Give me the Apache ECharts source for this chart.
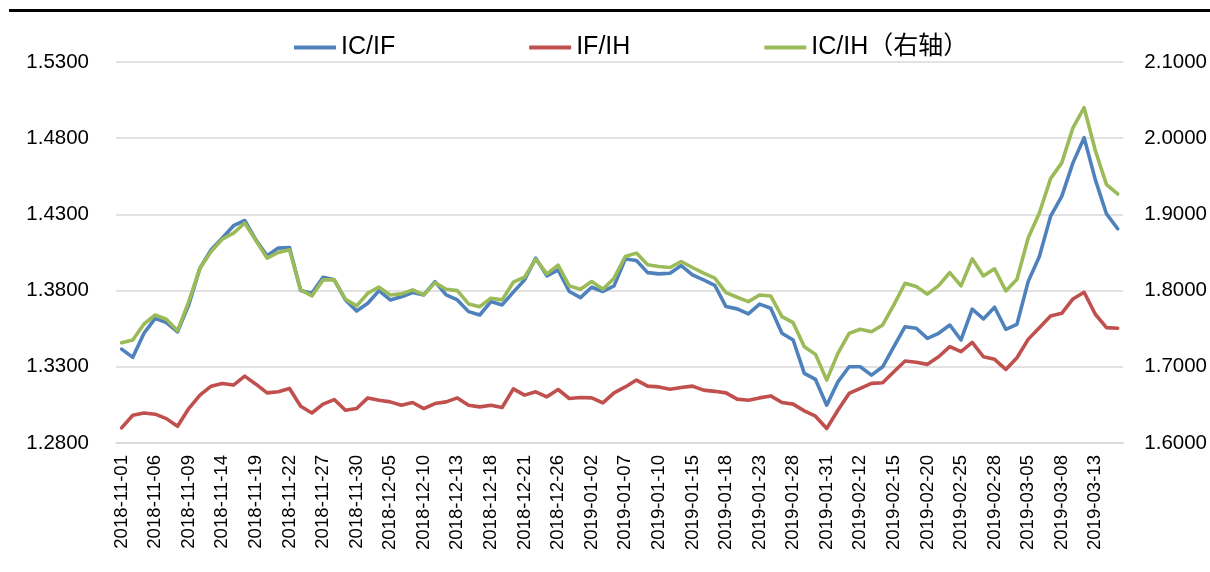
<!DOCTYPE html>
<html>
<head>
<meta charset="utf-8">
<script src="https://cdn.jsdelivr.net/npm/echarts@6/dist/echarts.min.js"></script>
<style>
html,body{margin:0;padding:0;background:#fff;}
#chart{width:1210px;height:572px;}
</style>
</head>
<body>
<div id="chart"></div>
<script>
var dates = [
'2018-11-01','2018-11-02','2018-11-05','2018-11-06','2018-11-07','2018-11-08','2018-11-09','2018-11-12','2018-11-13','2018-11-14',
'2018-11-15','2018-11-16','2018-11-19','2018-11-20','2018-11-21','2018-11-22','2018-11-23','2018-11-26','2018-11-27','2018-11-28',
'2018-11-29','2018-11-30','2018-12-03','2018-12-04','2018-12-05','2018-12-06','2018-12-07','2018-12-10','2018-12-11','2018-12-12',
'2018-12-13','2018-12-14','2018-12-17','2018-12-18','2018-12-19','2018-12-20','2018-12-21','2018-12-24','2018-12-25','2018-12-26',
'2018-12-27','2018-12-28','2019-01-02','2019-01-03','2019-01-04','2019-01-07','2019-01-08','2019-01-09','2019-01-10','2019-01-11',
'2019-01-14','2019-01-15','2019-01-16','2019-01-17','2019-01-18','2019-01-21','2019-01-22','2019-01-23','2019-01-24','2019-01-25',
'2019-01-28','2019-01-29','2019-01-30','2019-01-31','2019-02-01','2019-02-11','2019-02-12','2019-02-13','2019-02-14','2019-02-15',
'2019-02-18','2019-02-19','2019-02-20','2019-02-21','2019-02-22','2019-02-25','2019-02-26','2019-02-27','2019-02-28','2019-03-01',
'2019-03-04','2019-03-05','2019-03-06','2019-03-07','2019-03-08','2019-03-11','2019-03-12','2019-03-13','2019-03-14','2019-03-15'
];

var icIf = [
1.3416,1.3362,1.3520,1.3618,1.3590,1.3530,1.3706,1.3947,1.4068,1.4145,
1.4226,1.4260,1.4133,1.4028,1.4079,1.4083,1.3800,1.3783,1.3888,1.3871,
1.3739,1.3666,1.3717,1.3800,1.3739,1.3760,1.3787,1.3772,1.3859,1.3772,
1.3739,1.3662,1.3640,1.3728,1.3706,1.3790,1.3870,1.4013,1.3897,1.3936,
1.3794,1.3754,1.3822,1.3794,1.3831,1.4007,1.3997,1.3918,1.3910,1.3914,
1.3964,1.3903,1.3870,1.3835,1.3695,1.3680,1.3647,1.3711,1.3684,1.3520,
1.3476,1.3257,1.3217,1.3048,1.3201,1.3300,1.3300,1.3245,1.3300,1.3432,
1.3563,1.3553,1.3487,1.3520,1.3574,1.3476,1.3678,1.3614,1.3691,1.3546,
1.3579,1.3859,1.4024,1.4287,1.4418,1.4638,1.4803,1.4528,1.4303,1.4206
];

var ifIh = [
1.2899,1.2982,1.2997,1.2989,1.2960,1.2910,1.3026,1.3114,1.3173,1.3191,
1.3180,1.3239,1.3186,1.3129,1.3136,1.3158,1.3041,1.2997,1.3055,1.3085,
1.3015,1.3026,1.3096,1.3081,1.3070,1.3048,1.3066,1.3026,1.3059,1.3070,
1.3096,1.3048,1.3037,1.3048,1.3033,1.3155,1.3114,1.3136,1.3103,1.3151,
1.3092,1.3099,1.3096,1.3063,1.3129,1.3168,1.3213,1.3173,1.3168,1.3153,
1.3164,1.3173,1.3147,1.3139,1.3129,1.3088,1.3081,1.3096,1.3109,1.3066,
1.3055,1.3011,1.2976,1.2895,1.3015,1.3125,1.3158,1.3191,1.3195,1.3267,
1.3338,1.3330,1.3316,1.3366,1.3432,1.3399,1.3460,1.3366,1.3349,1.3283,
1.3359,1.3480,1.3557,1.3634,1.3651,1.3745,1.3789,1.3645,1.3557,1.3553
];

var icIh = [
1.7316,1.7351,1.7562,1.7680,1.7624,1.7474,1.7855,1.8295,1.8513,1.8676,
1.8755,1.8887,1.8658,1.8426,1.8500,1.8536,1.8009,1.7930,1.8141,1.8141,
1.7887,1.7799,1.7966,1.8045,1.7943,1.7957,1.8009,1.7943,1.8105,1.8018,
1.8000,1.7825,1.7789,1.7900,1.7878,1.8110,1.8176,1.8413,1.8220,1.8334,
1.8062,1.8018,1.8118,1.8018,1.8163,1.8447,1.8492,1.8338,1.8316,1.8303,
1.8382,1.8303,1.8229,1.8163,1.7974,1.7913,1.7855,1.7943,1.7930,1.7658,
1.7579,1.7263,1.7163,1.6825,1.7176,1.7439,1.7492,1.7461,1.7549,1.7812,
1.8097,1.8053,1.7953,1.8066,1.8237,1.8062,1.8417,1.8193,1.8286,1.7996,
1.8150,1.8689,1.9018,1.9470,1.9676,2.0137,2.0400,1.9838,1.9391,1.9268
];

var seriesNames = ['IC/IF', 'IF/IH', 'IC/IH（右轴）'];
var colors = ['#4F81BD', '#C0504D', '#9BBB59'];

var FONT = '"Liberation Sans", Arial, "Noto Sans CJK SC", sans-serif';

var chart = echarts.init(document.getElementById('chart'), null, {renderer: 'canvas'});
chart.setOption({
  animation: false,
  color: colors,
  textStyle: {fontFamily: FONT},
  graphic: [{
    type: 'rect',
    shape: {x: 9, y: 9, width: 1201, height: 3},
    style: {fill: '#000'}
  }],
  legend: {
    top: 30,
    left: 289,
    itemGap: 134,
    itemWidth: 42,
    itemHeight: 4,
    icon: 'rect',
    textStyle: {fontSize: 25, color: '#000', fontFamily: FONT},
    data: seriesNames
  },
  grid: {left: 116, right: 83, top: 62, bottom: 129, containLabel: false},
  xAxis: {
    type: 'category',
    data: dates,
    boundaryGap: true,
    axisLine: {lineStyle: {color: '#D9D9D9', width: 1.5}},
    axisTick: {show: false},
    axisLabel: {
      interval: 2,
      rotate: 90,
      margin: 12,
      fontSize: 18.6,
      color: '#000',
      fontFamily: FONT
    }
  },
  yAxis: [{
    type: 'value',
    min: 1.28, max: 1.53, interval: 0.05,
    axisLine: {show: false},
    axisTick: {show: false},
    splitLine: {lineStyle: {color: '#D9D9D9', width: 1.5}},
    axisLabel: {
      margin: 27,
      fontSize: 20.5,
      color: '#000',
      fontFamily: FONT,
      formatter: function (v) { return v.toFixed(4); }
    }
  }, {
    type: 'value',
    min: 1.6, max: 2.1, interval: 0.1,
    axisLine: {show: false},
    axisTick: {show: false},
    splitLine: {show: false},
    axisLabel: {
      margin: 21,
      fontSize: 20.5,
      color: '#000',
      fontFamily: FONT,
      formatter: function (v) { return v.toFixed(4); }
    }
  }],
  series: [{
    name: seriesNames[0], type: 'line', yAxisIndex: 0, data: icIf,
    showSymbol: false, symbol: 'none',
    lineStyle: {width: 3.6, color: colors[0], join: 'round', cap: 'round'}
  }, {
    name: seriesNames[1], type: 'line', yAxisIndex: 0, data: ifIh,
    showSymbol: false, symbol: 'none',
    lineStyle: {width: 3.6, color: colors[1], join: 'round', cap: 'round'}
  }, {
    name: seriesNames[2], type: 'line', yAxisIndex: 1, data: icIh,
    showSymbol: false, symbol: 'none',
    lineStyle: {width: 3.6, color: colors[2], join: 'round', cap: 'round'}
  }]
});
</script>
</body>
</html>
